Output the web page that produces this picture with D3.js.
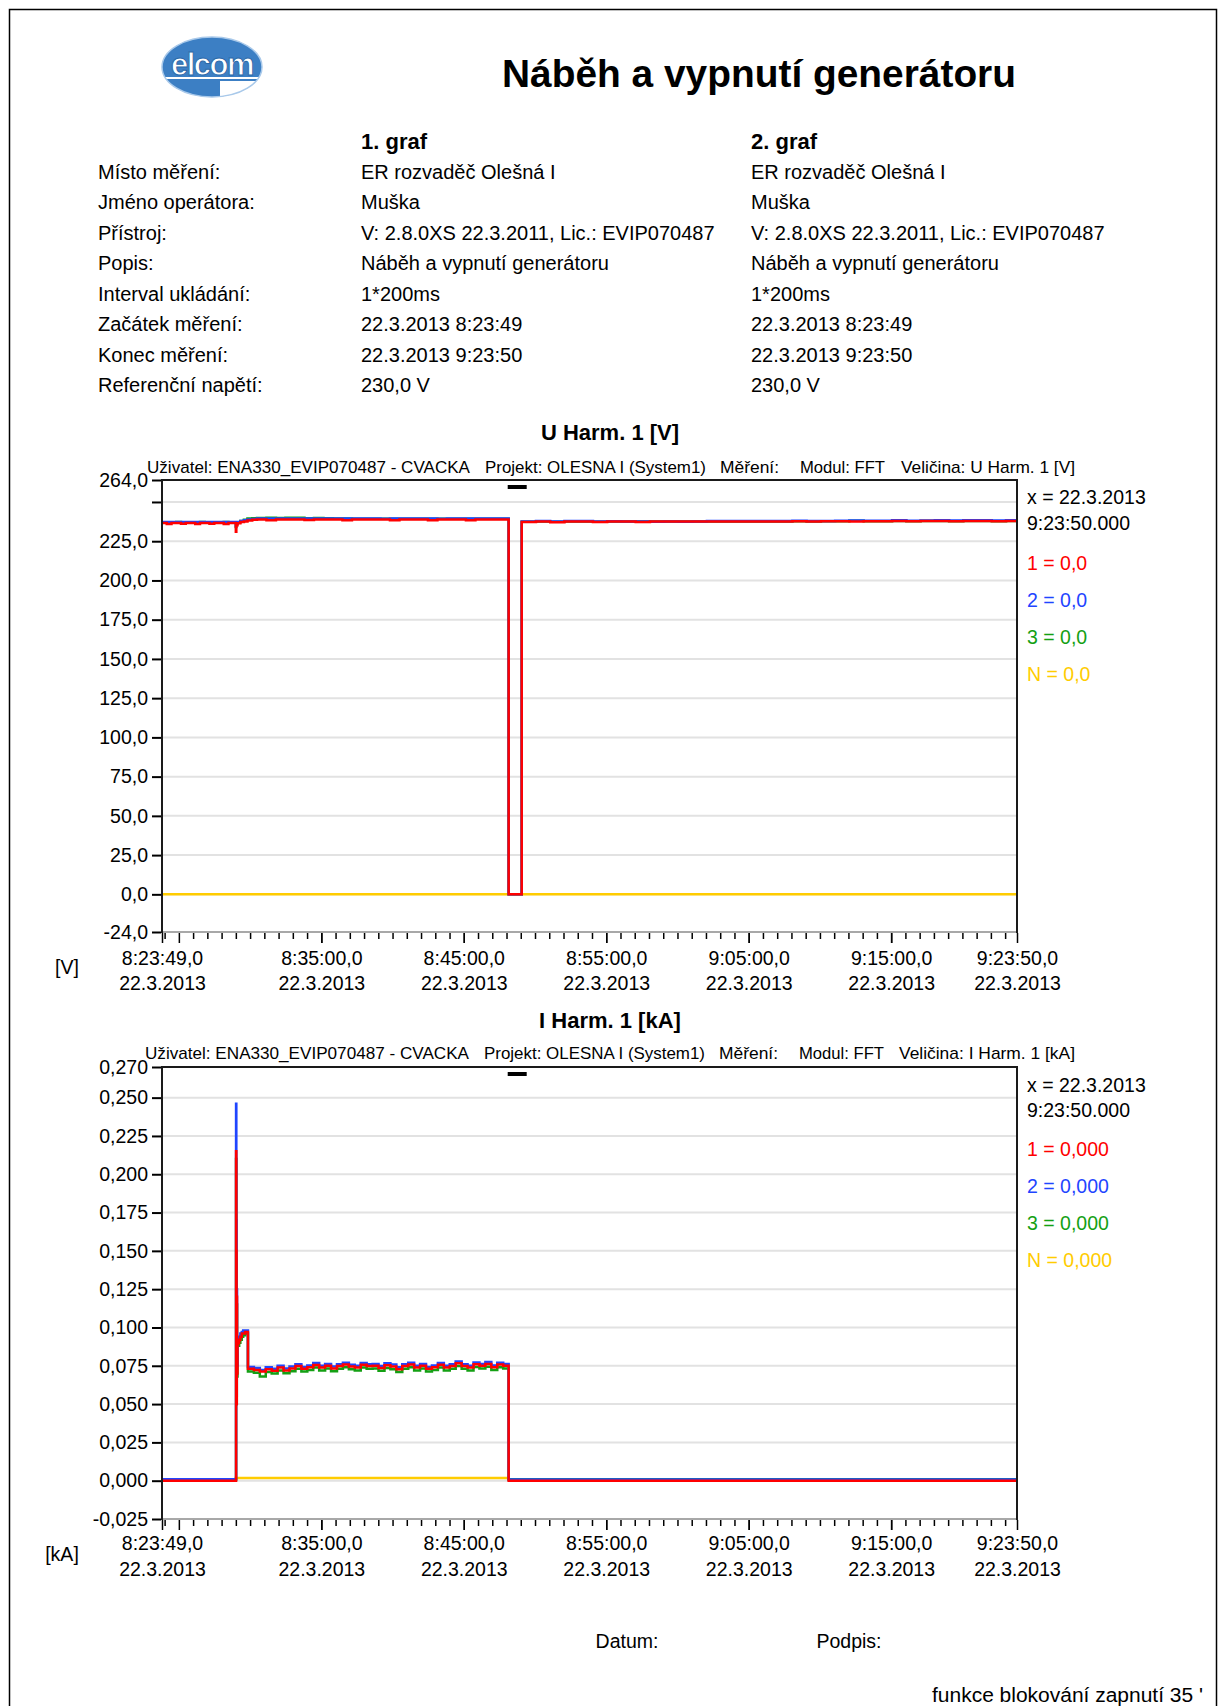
<!DOCTYPE html>
<html>
<head>
<meta charset="utf-8">
<script src="https://cdn.jsdelivr.net/npm/d3@7"></script>
<style>
  body { margin: 0; background: #fff; }
  svg { display: block; }
  text { font-family: "Liberation Sans", Arial, sans-serif; fill: #000; }
</style>
</head>
<body>
<svg id="page" width="1222" height="1706"></svg>
<script>
// ---------------- report header ----------------
const reportTitle = "Náběh a vypnutí generátoru";
const columnHeads = ["1. graf", "2. graf"];
const infoLabels = ["Místo měření:", "Jméno operátora:", "Přístroj:", "Popis:",
  "Interval ukládání:", "Začátek měření:", "Konec měření:", "Referenční napětí:"];
const graf1Info = ["ER rozvaděč Olešná I", "Muška", "V: 2.8.0XS 22.3.2011, Lic.: EVIP070487",
  "Náběh a vypnutí generátoru", "1*200ms", "22.3.2013 8:23:49", "22.3.2013 9:23:50", "230,0 V"];
const graf2Info = ["ER rozvaděč Olešná I", "Muška", "V: 2.8.0XS 22.3.2011, Lic.: EVIP070487",
  "Náběh a vypnutí generátoru", "1*200ms", "22.3.2013 8:23:49", "22.3.2013 9:23:50", "230,0 V"];

// ---------------- time axis ----------------
const startTime = new Date(2013, 2, 22, 8, 23, 49);
const endTime = new Date(2013, 2, 22, 9, 23, 50);
const xLabelTimes = ["8:23:49", "8:35:00", "8:45:00", "8:55:00", "9:05:00", "9:15:00", "9:23:50"];
const xTickLabels = ["8:23:49,0", "8:35:00,0", "8:45:00,0", "8:55:00,0", "9:05:00,0", "9:15:00,0", "9:23:50,0"];
const xDateLabel = "22.3.2013";
const cursorSpan = [1456, 1536];           // seconds from start

// ---------------- U Harm. 1 [V] ----------------
const uYTicks = [264, 250, 225, 200, 175, 150, 125, 100, 75, 50, 25, 0, -24];
const uYTickLabels = ["264,0", "", "225,0", "200,0", "175,0", "150,0", "125,0", "100,0", "75,0", "50,0", "25,0", "0,0", "-24,0"];
// sample times, seconds from 8:23:49
const uTimes = [0, 20, 40, 60, 80, 100, 120, 140, 160, 180, 200, 220, 240, 260, 280, 300,
  311, 313, 318, 330, 345, 360, 380,
  400, 440, 480, 520, 560, 600, 640, 680, 720, 760, 800, 840, 880, 920, 960, 1000, 1040, 1080,
  1120, 1160, 1200, 1240, 1280, 1320, 1360, 1400, 1440,
  1460,
  1515, 1575, 1635, 1695, 1755, 1815, 1875, 1935, 1995, 2055, 2115, 2175, 2235, 2295, 2355, 2415,
  2475, 2535, 2595, 2655, 2715, 2775, 2835, 2895, 2955, 3015, 3075, 3135, 3195, 3255, 3315, 3375,
  3435, 3495, 3555,
  3601];
const uL1 = [236.6, 236.0, 236.6, 236.6, 236.1, 236.6, 236.6, 236.0, 236.6, 236.6, 236.1, 236.6, 236.6, 236.0, 236.6, 236.6,
  231.0, 235.2, 236.4, 237.2, 237.6, 238.2, 238.6,
  238.9, 238.4, 238.9, 238.9, 238.9, 238.5, 238.9, 238.9, 238.9, 238.4, 238.9, 238.9, 238.9, 238.9, 238.3, 238.9, 238.9, 238.9,
  238.4, 238.9, 238.9, 238.9, 238.4, 238.9, 238.9, 238.9, 238.9,
  0.0,
  237.2, 237.5, 237.1, 237.5, 237.5, 237.2, 237.5, 237.5, 237.3, 237.5, 237.5, 237.5, 237.6, 237.6, 237.6, 237.6,
  237.6, 237.6, 237.6, 237.7, 237.6, 237.7, 237.7, 237.6, 237.7, 237.7, 237.8, 237.7, 237.8, 237.8, 237.7, 237.8,
  237.8, 237.7, 237.8,
  237.8];
const uL2 = [237.3, 237.3, 237.2, 237.3, 237.3, 237.3, 237.2, 237.3, 237.3, 237.3, 237.3, 237.2, 237.3, 237.3, 237.3, 237.3,
  234.5, 236.5, 237.2, 237.8, 238.3, 238.8, 239.1,
  239.4, 239.4, 239.5, 239.4, 239.4, 239.4, 239.5, 239.4, 239.4, 239.4, 239.4, 239.4, 239.4, 239.3, 239.4, 239.4, 239.4, 239.4,
  239.4, 239.3, 239.4, 239.4, 239.4, 239.4, 239.4, 239.4, 239.4,
  0.0,
  237.6, 237.8, 237.6, 237.8, 237.8, 237.6, 237.7, 237.5, 237.5, 237.4, 237.5, 237.4, 237.6, 237.8, 237.8, 237.8,
  237.9, 237.8, 237.8, 238.1, 237.9, 237.9, 238.0, 238.2, 238.0, 238.0, 238.3, 238.0, 238.2, 238.3, 238.2, 238.3,
  238.3, 238.2, 238.3,
  238.3];
const uL3 = [237.1, 237.1, 237.1, 237.2, 237.1, 237.1, 237.1, 237.1, 237.2, 237.1, 237.1, 237.1, 237.1, 237.2, 237.1, 237.1,
  234.0, 236.3, 237.1, 237.9, 238.6, 239.4, 239.6,
  239.8, 239.9, 239.8, 239.9, 239.9, 239.6, 239.8, 239.6, 239.4, 239.4, 239.3, 239.3, 239.3, 239.3, 239.3, 239.3, 239.3, 239.3,
  239.3, 239.3, 239.3, 239.3, 239.3, 239.3, 239.3, 239.3, 239.3,
  0.0,
  237.4, 237.6, 237.4, 237.6, 237.6, 237.4, 237.6, 237.6, 237.5, 237.5, 237.5, 237.5, 237.6, 237.6, 237.6, 237.6,
  237.6, 237.6, 237.6, 237.7, 237.6, 237.7, 237.7, 238.1, 237.7, 237.7, 237.8, 237.7, 237.8, 237.8, 237.7, 237.8,
  237.8, 237.7, 237.8,
  237.8];
const uNTimes = [0, 3601];
const uN = [0.0, 0.0];
const uLegend = ["0,0", "0,0", "0,0", "0,0"];

// ---------------- I Harm. 1 [kA] ----------------
const iYTicks = [0.270, 0.250, 0.225, 0.200, 0.175, 0.150, 0.125, 0.100, 0.075, 0.050, 0.025, 0.000, -0.025];
const iYTickLabels = ["0,270", "0,250", "0,225", "0,200", "0,175", "0,150", "0,125", "0,100", "0,075", "0,050", "0,025", "0,000", "-0,025"];
const iTimes = [0, 311,
  312, 313, 314, 315, 316, 318, 321, 325, 330, 336, 342, 350,
  362, 387, 412, 437, 462, 487, 512, 537, 562, 587, 612, 637, 662, 687, 712, 737, 762, 787, 812, 837, 862, 887,
  912, 937, 962, 987, 1012, 1037, 1062, 1087, 1112, 1137, 1162, 1187, 1212, 1237, 1262, 1287, 1312, 1337, 1362, 1387,
  1412, 1437,
  1460, 3601];
const iL1 = [0.0000, 0.0000,
  0.215, 0.150, 0.050, 0.120, 0.070, 0.089, 0.090, 0.092, 0.094, 0.096, 0.096, 0.097,
  0.0730, 0.0722, 0.0712, 0.0728, 0.0718, 0.0738, 0.0720, 0.0732, 0.0748, 0.0730, 0.0740, 0.0755, 0.0738, 0.0750, 0.0732, 0.0748,
  0.0758, 0.0746, 0.0738, 0.0756, 0.0748, 0.0750, 0.0736, 0.0754, 0.0746, 0.0728, 0.0748, 0.0758, 0.0738, 0.0750, 0.0730, 0.0740,
  0.0756, 0.0738, 0.0748, 0.0766, 0.0748, 0.0738, 0.0760, 0.0750, 0.0762, 0.0740, 0.0758, 0.0750,
  0.0000, 0.0000];
const iL2 = [0.0010, 0.0010,
  0.246, 0.170, 0.055, 0.125, 0.075, 0.091, 0.092, 0.094, 0.096, 0.097, 0.098, 0.098,
  0.0742, 0.0735, 0.0722, 0.0740, 0.0730, 0.0750, 0.0732, 0.0745, 0.0760, 0.0742, 0.0752, 0.0768, 0.0750, 0.0762, 0.0745, 0.0760,
  0.0770, 0.0757, 0.0750, 0.0768, 0.0760, 0.0762, 0.0748, 0.0766, 0.0758, 0.0740, 0.0760, 0.0770, 0.0750, 0.0762, 0.0742, 0.0752,
  0.0768, 0.0750, 0.0760, 0.0778, 0.0760, 0.0750, 0.0772, 0.0762, 0.0774, 0.0752, 0.0770, 0.0762,
  0.0008, 0.0008];
const iL3 = [0.0008, 0.0008,
  0.210, 0.145, 0.050, 0.115, 0.068, 0.088, 0.088, 0.090, 0.092, 0.094, 0.095, 0.096,
  0.0712, 0.0705, 0.0680, 0.0710, 0.0700, 0.0720, 0.0702, 0.0715, 0.0730, 0.0712, 0.0722, 0.0738, 0.0720, 0.0732, 0.0715, 0.0730,
  0.0740, 0.0728, 0.0720, 0.0738, 0.0730, 0.0732, 0.0718, 0.0736, 0.0728, 0.0710, 0.0730, 0.0740, 0.0720, 0.0732, 0.0712, 0.0722,
  0.0738, 0.0720, 0.0730, 0.0748, 0.0730, 0.0720, 0.0742, 0.0732, 0.0744, 0.0722, 0.0740, 0.0732,
  0.0010, 0.0010];
const iNTimes = [0, 311, 1460, 3601];
const iN = [0.0008, 0.0018, 0.0008, 0.0008];
const iLegend = ["0,000", "0,000", "0,000", "0,000"];

const phaseNames = ["1", "2", "3", "N"];
const phaseColors = ["#ff0000", "#1f45ff", "#14a014", "#ffcc00"];

// ---------------- page ----------------
const svg = d3.select("#page");
const FS = 19.5;

svg.append("rect").attr("width", 1222).attr("height", 1706).attr("fill", "#fff");
svg.append("rect").attr("x", 9.5).attr("y", 9.5).attr("width", 1207).attr("height", 1760)
  .attr("fill", "none").attr("stroke", "#000").attr("stroke-width", 1.5);

// company logo
const logo = svg.append("g").attr("transform", "translate(212,67)");
logo.append("clipPath").attr("id", "logoClip").append("ellipse").attr("rx", 50).attr("ry", 30);
logo.append("ellipse").attr("rx", 50).attr("ry", 30).attr("fill", "#3c7fc4");
logo.append("g").attr("clip-path", "url(#logoClip)")
  .append("rect").attr("x", 8).attr("y", 14).attr("width", 60).attr("height", 20).attr("fill", "#fff");
logo.append("line").attr("x1", -50).attr("x2", 50).attr("y1", 11).attr("y2", 11)
  .attr("stroke", "#fff").attr("stroke-width", 2);
logo.append("text").attr("text-anchor", "middle").attr("y", 8)
  .attr("font-size", 31).attr("font-weight", "bold").attr("letter-spacing", -1.5)
  .attr("stroke", "#2b68a8").attr("stroke-width", 1).style("fill", "#fff")
  .text("elcom");
logo.append("ellipse").attr("rx", 50).attr("ry", 30).attr("fill", "none")
  .attr("stroke", "#a9c9ea").attr("stroke-width", 1.5);

svg.append("text").attr("x", 759).attr("y", 87).attr("text-anchor", "middle")
  .attr("font-size", 38).attr("font-weight", "bold")
  .attr("textLength", 514).attr("lengthAdjust", "spacingAndGlyphs").text(reportTitle);

// measurement info table
const colX = [361, 751];
columnHeads.forEach((h, i) => {
  svg.append("text").attr("x", colX[i]).attr("y", 149).attr("font-size", 22).attr("font-weight", "bold").text(h);
});
const rowY = d3.scaleLinear().domain([0, 7]).range([179, 392]);
const info = svg.append("g").attr("font-size", 20);
info.selectAll(".lbl").data(infoLabels).join("text").attr("x", 98).attr("y", (d, i) => rowY(i)).text(d => d);
info.selectAll(".c1").data(graf1Info).join("text").attr("x", colX[0]).attr("y", (d, i) => rowY(i)).text(d => d);
info.selectAll(".c2").data(graf2Info).join("text").attr("x", colX[1]).attr("y", (d, i) => rowY(i)).text(d => d);

// ---------------- chart drawing ----------------
const X0 = 162, X1 = 1017;
const x = d3.scaleTime().domain([startTime, endTime]).range([X0, X1]);
const atSec = s => d3.timeSecond.offset(startTime, s);
const parseHMS = d3.timeParse("%Y-%m-%d %H:%M:%S");
const labelDates = xLabelTimes.map(t => parseHMS("2013-03-22 " + t));

function drawChart(cfg) {
  const g = svg.append("g");
  const y = d3.scaleLinear().domain([cfg.yTicks[cfg.yTicks.length - 1], cfg.yTicks[0]]).range([cfg.bottom, cfg.top]);

  // titles
  g.append("text").attr("x", 610).attr("y", cfg.titleY).attr("text-anchor", "middle")
    .attr("font-size", 22).attr("font-weight", "bold").text(cfg.title);
  const hdr = g.append("g").attr("font-size", 17);
  cfg.header.forEach(h => {
    hdr.append("text").attr("x", h.x).attr("y", cfg.headerY)
      .attr("textLength", h.w).attr("lengthAdjust", "spacingAndGlyphs").text(h.t);
  });

  // grid
  g.append("g").selectAll("line").data(cfg.yTicks.slice(1, -1)).join("line")
    .attr("x1", X0).attr("x2", X1).attr("y1", d => y(d)).attr("y2", d => y(d))
    .attr("stroke", "#e2e2e2").attr("stroke-width", 2);

  // y axis
  const yAxis = d3.axisLeft(y).tickValues(cfg.yTicks).tickSize(9).tickPadding(4)
    .tickFormat((d, i) => cfg.yTickLabels[i]);
  const ya = g.append("g").attr("transform", `translate(${X0 - 1},0)`).call(yAxis);
  ya.select(".domain").remove();
  ya.selectAll(".tick line").attr("stroke", "#000").attr("stroke-width", 2);
  ya.selectAll(".tick text").attr("font-size", FS).attr("fill", "#000");
  ya.attr("font-size", null).attr("font-family", null);

  // x axis: minute ticks, longer ones at ten-minute marks
  const minuteTicks = d3.timeMinute.range(d3.timeMinute.ceil(startTime), endTime);
  const xa = g.append("g").attr("transform", `translate(0,${cfg.bottom + 1})`)
    .call(d3.axisBottom(x).tickValues(minuteTicks).tickSize(6).tickFormat(""));
  xa.select(".domain").remove();
  xa.selectAll(".tick line").attr("stroke", "#000").attr("stroke-width", 1.5)
    .attr("y2", d => d.getMinutes() % 10 === 5 ? 10 : 6);

  const xl = g.append("g").attr("transform", `translate(0,${cfg.bottom + 1})`)
    .call(d3.axisBottom(x).tickValues(labelDates).tickSize(10).tickPadding(0).tickFormat(""));
  xl.select(".domain").remove();
  xl.attr("font-size", null).attr("font-family", null);
  xl.selectAll(".tick line").attr("stroke", "#000").attr("stroke-width", 1.5);
  const lt = xl.selectAll(".tick text").attr("font-size", FS).attr("fill", "#000").attr("y", 0).attr("dy", null);
  lt.append("tspan").attr("x", 0).attr("y", cfg.xLabelY1 - cfg.bottom - 1).text((d, i) => xTickLabels[i]);
  lt.append("tspan").attr("x", 0).attr("y", cfg.xLabelY2 - cfg.bottom - 1).text(xDateLabel);

  // unit label
  g.append("text").attr("x", cfg.unitX).attr("y", cfg.unitY).attr("text-anchor", "middle")
    .attr("font-size", FS).text(cfg.unit);

  // series
  const clipId = "clip" + cfg.id;
  g.append("clipPath").attr("id", clipId).append("rect")
    .attr("x", X0).attr("y", cfg.top).attr("width", X1 - X0).attr("height", cfg.bottom - cfg.top);
  const line = d3.line().curve(d3.curveStepAfter).x(d => x(atSec(d[0]))).y(d => y(d[1]));
  const lines = g.append("g").attr("clip-path", `url(#${clipId})`);
  cfg.series.forEach(s => {
    lines.append("path").datum(s.times.map((t, i) => [t, s.values[i]]))
      .attr("d", line).attr("fill", "none").attr("stroke", s.color)
      .attr("stroke-width", 2.5).attr("stroke-linejoin", "miter");
  });

  // plot frame
  g.append("line").attr("x1", X0).attr("x2", X1).attr("y1", cfg.bottom).attr("y2", cfg.bottom)
    .attr("stroke", "#a8a8a8").attr("stroke-width", 2);
  g.append("path").attr("d", `M${X0},${cfg.bottom + 1}V${cfg.top}H${X1}V${cfg.bottom + 1}`)
    .attr("fill", "none").attr("stroke", "#1a1a1a").attr("stroke-width", 2);

  // cursor marker
  g.append("rect").attr("x", x(atSec(cursorSpan[0]))).attr("y", cfg.top + 5)
    .attr("width", x(atSec(cursorSpan[1])) - x(atSec(cursorSpan[0]))).attr("height", 4).attr("fill", "#000");

  // legend
  const lg = g.append("g").attr("font-size", FS);
  lg.append("text").attr("x", 1027).attr("y", cfg.legendY[0]).text("x = 22.3.2013");
  lg.append("text").attr("x", 1027).attr("y", cfg.legendY[1]).text("9:23:50.000");
  phaseNames.forEach((n, i) => {
    lg.append("text").attr("x", 1027).attr("y", cfg.legendY[2 + i]).style("fill", phaseColors[i])
      .text(`${n} = ${cfg.legend[i]}`);
  });
}

drawChart({
  id: 1, title: "U Harm. 1 [V]", titleY: 440, headerY: 473,
  header: [
    { t: "Uživatel: ENA330_EVIP070487 - CVACKA", x: 147, w: 323 },
    { t: "Projekt: OLESNA I (System1)", x: 485, w: 221 },
    { t: "Měření:", x: 720, w: 59 },
    { t: "Modul: FFT", x: 800, w: 85 },
    { t: "Veličina: U Harm. 1 [V]", x: 901, w: 174 }
  ],
  top: 480, bottom: 932, yTicks: uYTicks, yTickLabels: uYTickLabels,
  xLabelY1: 965, xLabelY2: 990, unit: "[V]", unitX: 67, unitY: 974,
  legend: uLegend, legendY: [504, 530, 570, 607, 644, 681],
  series: [
    { times: uNTimes, values: uN, color: phaseColors[3] },
    { times: uTimes, values: uL3, color: phaseColors[2] },
    { times: uTimes, values: uL2, color: phaseColors[1] },
    { times: uTimes, values: uL1, color: phaseColors[0] }
  ]
});

drawChart({
  id: 2, title: "I Harm. 1 [kA]", titleY: 1028, headerY: 1059,
  header: [
    { t: "Uživatel: ENA330_EVIP070487 - CVACKA", x: 145, w: 324 },
    { t: "Projekt: OLESNA I (System1)", x: 484, w: 221 },
    { t: "Měření:", x: 719, w: 59 },
    { t: "Modul: FFT", x: 799, w: 85 },
    { t: "Veličina: I Harm. 1 [kA]", x: 899, w: 176 }
  ],
  top: 1067, bottom: 1519, yTicks: iYTicks, yTickLabels: iYTickLabels,
  xLabelY1: 1550, xLabelY2: 1576, unit: "[kA]", unitX: 62, unitY: 1561,
  legend: iLegend, legendY: [1092, 1117, 1156, 1193, 1230, 1267],
  series: [
    { times: iNTimes, values: iN, color: phaseColors[3] },
    { times: iTimes, values: iL3, color: phaseColors[2] },
    { times: iTimes, values: iL2, color: phaseColors[1] },
    { times: iTimes, values: iL1, color: phaseColors[0] }
  ]
});

// footer
svg.append("text").attr("x", 627).attr("y", 1648).attr("text-anchor", "middle").attr("font-size", FS).text("Datum:");
svg.append("text").attr("x", 849).attr("y", 1648).attr("text-anchor", "middle").attr("font-size", FS).text("Podpis:");
svg.append("text").attr("x", 932).attr("y", 1702).attr("font-size", 20)
  .attr("textLength", 271).attr("lengthAdjust", "spacingAndGlyphs")
  .text("funkce blokování zapnutí 35 '");
</script>
</body>
</html>
